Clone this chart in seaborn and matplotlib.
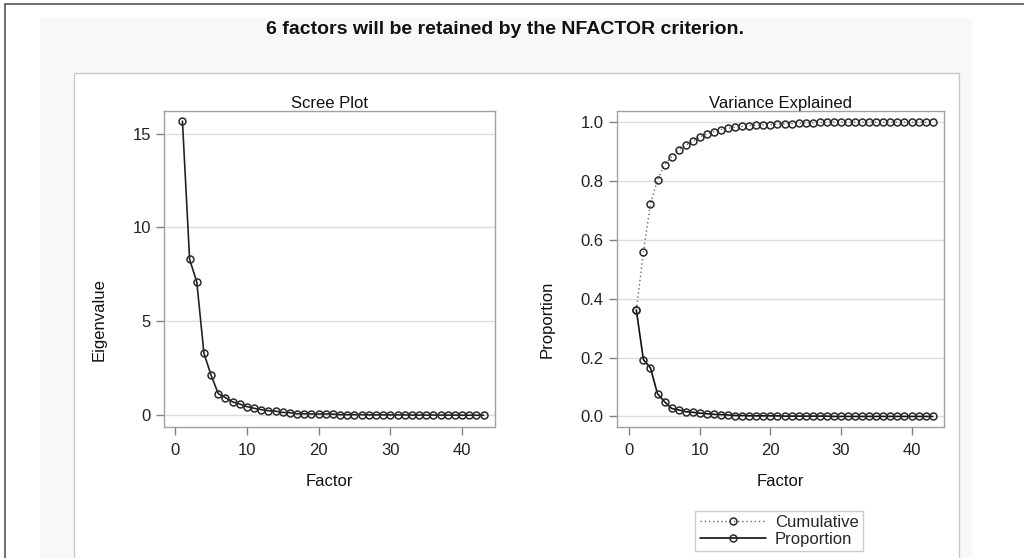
import matplotlib
matplotlib.use("Agg")
import matplotlib.pyplot as plt
import seaborn as sns
import pandas as pd
from matplotlib.patches import Rectangle
from matplotlib.lines import Line2D

# ---------------- data ----------------
factors = list(range(1, 44))
eigenvalues = [15.66, 8.30, 7.10, 3.30, 2.13, 1.15, 0.94, 0.71, 0.60, 0.46,
               0.37, 0.30, 0.24, 0.22, 0.15, 0.14, 0.08, 0.08, 0.07, 0.07,
               0.07, 0.06, 0.03, 0.03, 0.03, 0.03, 0.02, 0.02, 0.02, 0.02,
               0.02, 0.02, 0.01, 0.01, 0.01, 0.01, 0.01, 0.01, 0.01, 0.005,
               0.005, 0.003, 0.002]
proportion = [0.361, 0.193, 0.165, 0.077, 0.050, 0.027, 0.022, 0.016, 0.014, 0.011,
              0.009, 0.007, 0.006, 0.005, 0.003, 0.003, 0.002, 0.002, 0.002, 0.002,
              0.002, 0.001, 0.001, 0.001, 0.001, 0.001, 0.001, 0.001, 0.000, 0.000,
              0.000, 0.000, 0.000, 0.000, 0.000, 0.000, 0.000, 0.000, 0.000, 0.000,
              0.000, 0.000, 0.000]
cumulative = [0.361, 0.558, 0.723, 0.804, 0.855, 0.883, 0.906, 0.922, 0.936, 0.950,
              0.960, 0.968, 0.975, 0.979, 0.983, 0.986, 0.988, 0.990, 0.991, 0.992,
              0.993, 0.994, 0.995, 0.996, 0.997, 0.998, 0.999, 1.000, 1.000, 1.000,
              1.000, 1.000, 1.000, 1.000, 1.000, 1.000, 1.000, 1.000, 1.000, 1.000,
              1.000, 1.000, 1.000]
x_ticks = [0, 10, 20, 30, 40]
eig_ticks = [0, 5, 10, 15]
prop_ticks = [0.0, 0.2, 0.4, 0.6, 0.8, 1.0]
main_title = "6 factors will be retained by the NFACTOR criterion."

# ---------------- styling ----------------
sns.set_style("white")
plt.rcParams["font.family"] = ["Liberation Sans", "DejaVu Sans"]

W, H = 1024, 558
fig = plt.figure(figsize=(W / 100, H / 100), dpi=100)

# Background decorations: outer border, gray panel, inner white box
fig.add_artist(Line2D([5 / W, 5 / W], [0, 1 - 4 / H], color="#555555", lw=1.2,
                      transform=fig.transFigure))
fig.add_artist(Line2D([5 / W, 1], [1 - 4 / H, 1 - 4 / H], color="#555555", lw=1.2,
                      transform=fig.transFigure))
fig.add_artist(Rectangle((40 / W, 0), (972 - 40) / W, 1 - 18 / H,
                         transform=fig.transFigure, facecolor="#f8f8f8",
                         edgecolor="none", zorder=-2))
fig.add_artist(Rectangle((74 / W, -0.01), (959 - 74) / W, 1 - 73 / H + 0.01,
                         transform=fig.transFigure, facecolor="white",
                         edgecolor="#c8c8c8", lw=1.0, zorder=-1))

fig.text(505 / W, 1 - 30 / H, main_title, ha="center", va="center",
         fontsize=14, fontweight="bold", color="#111111")

ax1 = fig.add_axes([164.3 / W, 1 - 427.3 / H, 330.7 / W, 316.3 / H])
ax2 = fig.add_axes([617 / W, 1 - 427.3 / H, 327 / W, 316.3 / H])

df1 = pd.DataFrame({"Factor": factors, "Eigenvalue": eigenvalues})
df2 = pd.DataFrame({"Factor": factors * 2,
                    "Value": cumulative + proportion,
                    "Series": ["Cumulative"] * len(factors) + ["Proportion"] * len(factors)})

mk = dict(marker="o", markersize=5, markerfacecolor="none",
          markeredgecolor="#2a2a2a", markeredgewidth=1.1)

sns.lineplot(data=df1, x="Factor", y="Eigenvalue", ax=ax1, color="#222222",
             lw=1.2, **mk)

sns.lineplot(data=df2[df2.Series == "Cumulative"], x="Factor", y="Value", ax=ax2,
             color="#666666", lw=1.0, linestyle=(0, (1, 2)), **mk)
sns.lineplot(data=df2[df2.Series == "Proportion"], x="Factor", y="Value", ax=ax2,
             color="#111111", lw=1.2, **mk)

for ax, yt, ylim, xlim, ttl, ylab in [
        (ax1, eig_ticks, (-0.64, 16.2), (-1.53, 44.6), "Scree Plot", "Eigenvalue"),
        (ax2, prop_ticks, (-0.037, 1.038), (-1.74, 44.6), "Variance Explained", "Proportion")]:
    ax.set_xlim(*xlim)
    ax.set_ylim(*ylim)
    ax.set_xticks(x_ticks)
    ax.set_yticks(yt)
    if ax is ax2:
        ax.set_yticklabels([f"{v:.1f}" for v in yt])
    ax.grid(axis="y", color="#dcdcdc", lw=1.0)
    ax.set_axisbelow(True)
    for s in ax.spines.values():
        s.set_color("#a0a0a0")
        s.set_linewidth(1.0)
    ax.tick_params(axis="both", which="both", direction="out", length=5.5, width=1.0,
                   color="#808080", labelsize=12, labelcolor="#222222",
                   bottom=True, left=True, top=False, right=False)
    ax.tick_params(axis="x", pad=6)
    ax.tick_params(axis="y", pad=4)
    ax.set_title(ttl, fontsize=12, pad=2, color="#111111")
    ax.set_xlabel("Factor", fontsize=12, labelpad=11, color="#111111")
    ax.set_ylabel(ylab, fontsize=12, color="#111111")
    ax.set_facecolor("white")

ax1.yaxis.set_label_coords(-0.173, 0.34)
ax2.yaxis.set_label_coords(-0.19, 0.34)

handles = [Line2D([], [], color="#666666", lw=1.0, linestyle=(0, (1, 2)), **mk),
           Line2D([], [], color="#111111", lw=1.2, **mk)]
leg = fig.legend(handles, ["Cumulative", "Proportion"], loc="center",
                 bbox_to_anchor=(779 / W, 1 - 531 / H), fontsize=12,
                 handlelength=4.0, numpoints=1, frameon=True, fancybox=False,
                 borderpad=0.25, labelspacing=0.15, handletextpad=0.5,
                 borderaxespad=0)
leg.get_frame().set_edgecolor("#c0c0c0")
leg.get_frame().set_linewidth(1.0)

fig.savefig("out.png", dpi=100)
